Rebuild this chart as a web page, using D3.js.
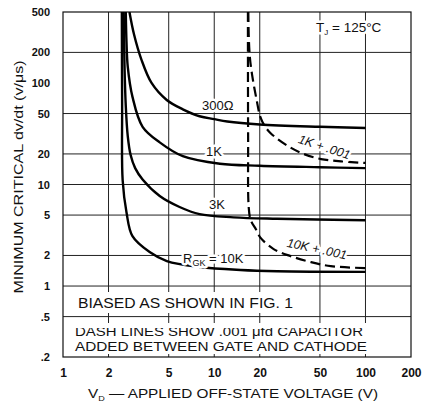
<!DOCTYPE html>
<html>
<head>
<meta charset="utf-8">
<script src="https://cdn.jsdelivr.net/npm/d3@7"></script>
<style>
body{margin:0;background:#fff;}
svg{display:block;font-family:"Liberation Sans",Arial,sans-serif;}
</style>
</head>
<body>
<svg id="svg" width="422" height="405"></svg>
<script>
// tick values / labels
var xTicks = [1, 2, 5, 10, 20, 50, 100, 200];
var xGrid = [2, 5, 10, 20, 50, 100];
var yTicks = [500, 200, 100, 50, 20, 10, 5, 2, 1, .5, .2];
var yTickLabels = ['500', '200', '100', '50', '20', '10', '5', '2', '1', '.5', '.2'];
var yGrid = [200, 50, 20, 10, 5, 2, 1, .5];

// solid curves, [V, dv/dt]
var r300 = [[2.75,500],[2.95,300],[3.3,170],[3.85,100],[4.85,68],[6.2,55],[8,47],[10,44],[12.2,41.7],[20,39],[50,37],[100,36]];
var r1k = [[2.6,500],[2.63,250],[2.68,145],[2.88,73],[3.36,37],[4.36,26],[6.2,19],[10.9,16],[20,15.3],[50,14.8],[100,14.5]];
var r3k = [[2.52,500],[2.55,150],[2.6,60],[2.68,30],[2.8,19.5],[3.0,14.5],[3.36,11.2],[4.36,7.7],[5.9,6.0],[8,5.1],[13.4,4.75],[26,4.6],[100,4.45]];
var r10k = [[2.45,500],[2.46,60],[2.48,11],[2.63,5.3],[2.88,3.1],[3.74,2.16],[4.86,1.76],[8.06,1.54],[14.9,1.44],[26,1.4],[100,1.38]];

// dashed curves (with .001 capacitor)
var c1k = [[16.8,500],[16.9,300],[17.2,180],[17.8,120],[19,70],[20.2,46],[21.5,38],[23.6,32],[30.6,24],[39,20],[50.8,17.8],[69,16.9],[100,16.3]];
var c10k = [[16.7,500],[16.75,30],[16.9,6],[17.4,4.5],[18.9,3.6],[20.2,3.0],[24.7,2.31],[32,1.97],[43.6,1.72],[59,1.57],[100,1.5]];

var svg = d3.select('svg');

var x = d3.scaleLog().domain([1, 200]).range([63, 411]);
var y = d3.scaleLog().domain([0.2, 500]).range([357, 12]);

// grid
svg.append('g').selectAll('line')
    .data(xGrid)
    .enter()
    .append('line')
    .attr('x1', function(d){return x(d)})
    .attr('x2', function(d){return x(d)})
    .attr('y1', y(500))
    .attr('y2', y(0.2))
    .attr('stroke', '#222')
    .attr('stroke-width', 1);

svg.append('g').selectAll('line')
    .data(yGrid)
    .enter()
    .append('line')
    .attr('x1', x(1))
    .attr('x2', x(200))
    .attr('y1', function(d){return y(d)})
    .attr('y2', function(d){return y(d)})
    .attr('stroke', '#222')
    .attr('stroke-width', 1);

// white areas behind the notes
svg.append('rect').attr('x', 70).attr('y', 292).attr('width', 232).attr('height', 21).attr('fill', 'white');
svg.append('rect').attr('x', 66).attr('y', 323).attr('width', 306).attr('height', 31).attr('fill', 'white');

// frame
svg.append('rect')
    .attr('x', x(1))
    .attr('y', y(500))
    .attr('width', x(200) - x(1))
    .attr('height', y(0.2) - y(500))
    .attr('fill', 'none')
    .attr('stroke', '#111')
    .attr('stroke-width', 1.2);

// axes
var yAxis = d3.axisLeft(y)
    .tickValues(yTicks)
    .tickFormat(function(d, i){return yTickLabels[i]})
    .tickSize(0)
    .tickPadding(13);
var gy = svg.append('g').attr('transform', 'translate(' + x(1) + ',0)').call(yAxis);
gy.select('.domain').remove();
gy.selectAll('text').attr('font-size', 11).attr('font-weight', 'bold').attr('fill', '#111')
    .attr('font-family', '"Liberation Sans",Arial,sans-serif');

var xAxis = d3.axisBottom(x)
    .tickValues(xTicks)
    .tickFormat(function(d){return d})
    .tickSize(0)
    .tickPadding(11);
var gx = svg.append('g').attr('transform', 'translate(0,' + y(0.2) + ')').call(xAxis);
gx.select('.domain').remove();
gx.selectAll('text').attr('font-size', 12).attr('font-weight', 'bold').attr('fill', '#111')
    .attr('font-family', '"Liberation Sans",Arial,sans-serif');

// curves
var line = d3.line()
    .x(function(d){return x(d[0])})
    .y(function(d){return y(d[1])})
    .curve(d3.curveCatmullRom.alpha(0.5));

svg.append('clipPath').attr('id', 'plotclip')
    .append('rect').attr('x', x(1)).attr('y', y(500)).attr('width', x(200) - x(1)).attr('height', y(0.2) - y(500));

var curves = svg.append('g').attr('clip-path', 'url(#plotclip)');

[r300, r1k, r3k, r10k].forEach(function(s){
    curves.append('path')
        .attr('d', line(s))
        .attr('fill', 'none')
        .attr('stroke', '#000')
        .attr('stroke-width', 2.4);
});

[c1k, c10k].forEach(function(s){
    curves.append('path')
        .attr('d', line(s))
        .attr('fill', 'none')
        .attr('stroke', '#000')
        .attr('stroke-width', 2.2)
        .attr('stroke-dasharray', '10,5');
});

// curve labels
function halo(t){
    return t.attr('stroke', 'white').attr('stroke-width', 5).attr('paint-order', 'stroke')
        .attr('stroke-linejoin', 'round').attr('fill', '#111');
}

halo(svg.append('text').attr('x', 202).attr('y', 110).attr('font-size', 13).text('300Ω'));
halo(svg.append('text').attr('x', 206).attr('y', 156).attr('font-size', 13).text('1K'));
halo(svg.append('text').attr('x', 209).attr('y', 209).attr('font-size', 13).text('3K'));

var rgk = halo(svg.append('text').attr('x', 183).attr('y', 263).attr('font-size', 13));
rgk.append('tspan').text('R');
rgk.append('tspan').attr('font-size', 9).attr('dy', 3).text('GK');
rgk.append('tspan').attr('dy', -3).text(' = 10K');

halo(svg.append('text')
    .attr('transform', 'translate(323,151) rotate(18)')
    .attr('text-anchor', 'middle')
    .attr('font-size', 12.5)
    .attr('font-style', 'italic')
    .text('1K + .001'));

halo(svg.append('text')
    .attr('transform', 'translate(316,253) rotate(12)')
    .attr('text-anchor', 'middle')
    .attr('font-size', 12.5)
    .attr('font-style', 'italic')
    .text('10K + .001'));

var tj = halo(svg.append('text').attr('x', 316).attr('y', 32).attr('font-size', 13.5));
tj.append('tspan').text('T');
tj.append('tspan').attr('font-size', 8).attr('dy', 3).text('J');
tj.append('tspan').attr('dy', -3).text(' = 125°C');

// notes at the bottom
svg.append('text').attr('x', 78).attr('y', 308).attr('font-size', 14)
    .attr('textLength', 215).attr('lengthAdjust', 'spacingAndGlyphs').attr('fill', '#111')
    .text('BIASED AS SHOWN IN FIG. 1');

svg.append('clipPath').attr('id', 'noteclip')
    .append('rect').attr('x', 60).attr('y', 328).attr('width', 320).attr('height', 20);
svg.append('text').attr('x', 75).attr('y', 336).attr('font-size', 13.5)
    .attr('clip-path', 'url(#noteclip)')
    .attr('textLength', 288).attr('lengthAdjust', 'spacingAndGlyphs').attr('fill', '#111')
    .text('DASH LINES SHOW .001 μfd CAPACITOR');

svg.append('text').attr('x', 75).attr('y', 351).attr('font-size', 13.5)
    .attr('textLength', 292).attr('lengthAdjust', 'spacingAndGlyphs').attr('fill', '#111')
    .text('ADDED BETWEEN GATE AND CATHODE');

// axis titles
var xt = svg.append('text').attr('x', 88).attr('y', 398).attr('font-size', 13.5).attr('fill', '#111')
    .attr('textLength', 290).attr('lengthAdjust', 'spacingAndGlyphs');
xt.append('tspan').text('V');
xt.append('tspan').attr('font-size', 8).attr('dy', 3).text('D');
xt.append('tspan').attr('dy', -3).text(' — APPLIED OFF-STATE VOLTAGE (V)');

svg.append('text')
    .attr('transform', 'translate(23,177) rotate(-90)')
    .attr('text-anchor', 'middle')
    .attr('font-size', 13)
    .attr('fill', '#111')
    .attr('textLength', 233).attr('lengthAdjust', 'spacingAndGlyphs')
    .text('MINIMUM CRITICAL dv/dt (v/μs)');
</script>
</body>
</html>
